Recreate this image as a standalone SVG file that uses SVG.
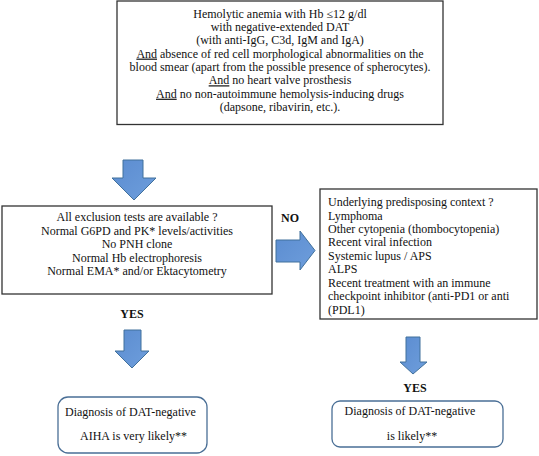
<svg xmlns="http://www.w3.org/2000/svg" width="539" height="456" viewBox="0 0 539 456">
<defs>
<linearGradient id="ag" x1="0" y1="0" x2="1" y2="1">
<stop offset="0" stop-color="#5b8cd0"/>
<stop offset="1" stop-color="#6e9edc"/>
</linearGradient>
</defs>
<style>
text{font-family:"Liberation Serif","Times New Roman",serif;font-size:12px;fill:#111}
.c{text-anchor:middle}
.b{font-weight:bold}
.u{text-decoration:underline}
.box{fill:#fff;stroke:#333;stroke-width:1.3}
.rbox{fill:#fff;stroke:#4a6f96;stroke-width:1.3}
.arr{fill:url(#ag);stroke:#41719c;stroke-width:1}
</style>
<rect width="539" height="456" fill="#fff"/>
<g id="connectors">
<path class="arr" d="M123,160 H143 V178 H156 L134,200 L112,178 H123 Z"/>
<path class="arr" d="M276,240 H300 V231 L315,250.5 L300,270 V262 H276 Z"/>
<path class="arr" d="M124,330 H141 V351 H149 L132,368 L115,351 H124 Z"/>
<path class="arr" d="M406,337 H420 V362 H427 L413,374 L400,362 H406 Z"/>
<text class="c b" x="290" y="222">NO</text>
<text class="c b" x="132" y="318">YES</text>
<text class="c b" x="415" y="392">YES</text>
</g>
<g id="start">
<rect class="box" x="117" y="1" width="326" height="123.5"/>
<text class="c" x="280" y="17.5">Hemolytic anemia with Hb ≤12 g/dl</text>
<text class="c" x="280" y="30.9">with negative-extended DAT</text>
<text class="c" x="280" y="44.2">(with anti-IgG, C3d, IgM and IgA)</text>
<text class="c" x="280" y="57.6"><tspan class="u">And</tspan> absence of red cell morphological abnormalities on the</text>
<text class="c" x="280" y="70.9">blood smear (apart from the possible presence of spherocytes).</text>
<text class="c" x="280" y="84.3"><tspan class="u">And</tspan> no heart valve prosthesis</text>
<text class="c" x="280" y="97.7"><tspan class="u">And</tspan> no non-autoimmune hemolysis-inducing drugs</text>
<text class="c" x="280" y="111">(dapsone, ribavirin, etc.).</text>
</g>
<g id="exclusion">
<rect class="box" x="2" y="206" width="270" height="88"/>
<text class="c" x="137" y="221">All exclusion tests are available ?</text>
<text class="c" x="137" y="234.5">Normal G6PD and PK* levels/activities</text>
<text class="c" x="137" y="248">No PNH clone</text>
<text class="c" x="137" y="261.5">Normal Hb electrophoresis</text>
<text class="c" x="137" y="275">Normal EMA* and/or Ektacytometry</text>
</g>
<g id="context">
<rect class="box" x="320" y="189" width="217" height="130"/>
<text x="328" y="206">Underlying predisposing context ?</text>
<text x="328" y="219.5">Lymphoma</text>
<text x="328" y="233">Other cytopenia (thombocytopenia)</text>
<text x="328" y="246">Recent viral infection</text>
<text x="328" y="259.5">Systemic lupus / APS</text>
<text x="328" y="273">ALPS</text>
<text x="328" y="286.5">Recent treatment with an immune</text>
<text x="328" y="300">checkpoint inhibitor (anti-PD1 or anti</text>
<text x="328" y="313.5">(PDL1)</text>
</g>
<g id="diag-left">
<rect class="rbox" x="58" y="397" width="149" height="56" rx="10"/>
<text x="65" y="416">Diagnosis of DAT-negative</text>
<text x="80" y="440">AIHA is very likely**</text>
</g>
<g id="diag-right">
<rect class="rbox" x="332" y="401" width="171" height="46" rx="8"/>
<text class="c" x="410" y="415">Diagnosis of DAT-negative</text>
<text class="c" x="412" y="440">is likely**</text>
</g>
</svg>
